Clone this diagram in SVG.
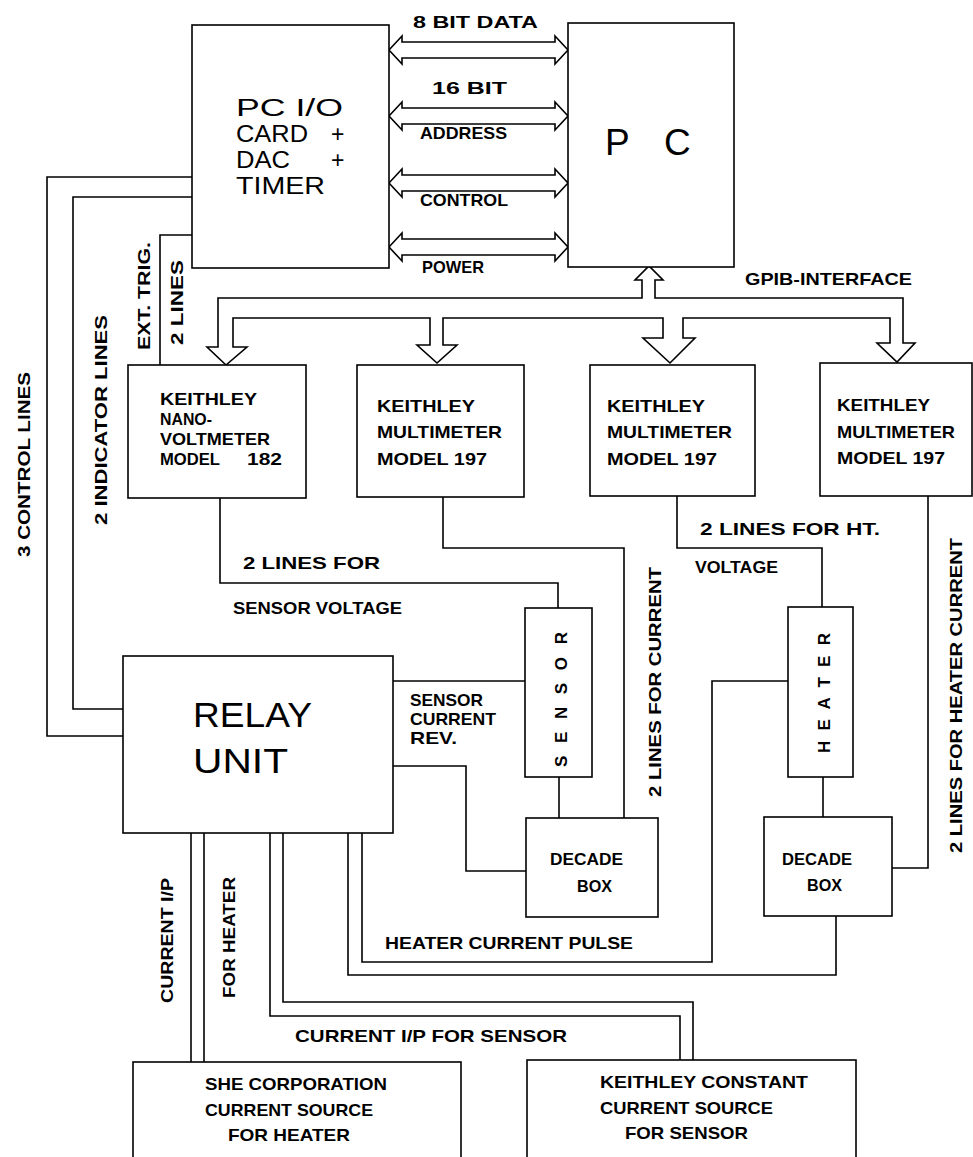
<svg xmlns="http://www.w3.org/2000/svg" width="973" height="1157" viewBox="0 0 973 1157">
<style>
.box{fill:#fff;stroke:#000;stroke-width:1.6}
.ln{fill:none;stroke:#000;stroke-width:1.6}
.bus{fill:#fff;stroke:#000;stroke-width:1.6;stroke-linejoin:miter}
.big{font-family:"Liberation Sans",Arial,sans-serif;font-weight:normal;fill:#000}
.sm{font-family:"Liberation Sans",Arial,sans-serif;font-weight:bold;font-size:17px;fill:#000}
</style>
<rect width="973" height="1157" fill="#fff"/>

<g id="connectors">
  <polyline class="ln" points="192,177 47,177 47,736 123,736"/>
  <polyline class="ln" points="192,197 73,197 73,709 123,709"/>
  <polyline class="ln" points="192,235 160,235 160,365"/>
  <polyline class="ln" points="220,498 220,583 558,583 558,608"/>
  <polyline class="ln" points="443,497 443,548 624,548 624,818"/>
  <polyline class="ln" points="677,496 677,548 822,548 822,607"/>
  <polyline class="ln" points="928,496 928,868 892,868"/>
  <polyline class="ln" points="393,681 525,681"/>
  <polyline class="ln" points="393,766 466,766 466,871 526,871"/>
  <polyline class="ln" points="559,777 559,818"/>
  <polyline class="ln" points="823,777 823,817"/>
  <polyline class="ln" points="191,833 191,1062"/>
  <polyline class="ln" points="204,833 204,1062"/>
  <polyline class="ln" points="270,833 270,1016 680,1016 680,1060"/>
  <polyline class="ln" points="283,833 283,1002 693,1002 693,1060"/>
  <polyline class="ln" points="348,833 348,975 836,975 836,916"/>
  <polyline class="ln" points="362,833 362,962 712,962 712,681 788,681"/>
  <path class="bus" d="M389,50 L402,36 L402,42 L555,42 L555,36 L568,50 L555,64 L555,58 L402,58 L402,64 Z"/>
  <path class="bus" d="M389,116 L402,102 L402,108 L555,108 L555,102 L568,116 L555,130 L555,124 L402,124 L402,130 Z"/>
  <path class="bus" d="M389,183 L402,169 L402,175 L555,175 L555,169 L568,183 L555,197 L555,191 L402,191 L402,197 Z"/>
  <path class="bus" d="M389,247 L402,233 L402,239 L555,239 L555,233 L568,247 L555,261 L555,255 L402,255 L402,261 Z"/>
  <path class="bus" d="M642,280 L635,280 L649,266 L663,280 L655,280 L655,298 L903,298 L903,343 L915,343 L897,362 L877,343 L890,343 L890,318 L683,318 L683,338 L695,338 L670,363 L643,338 L663,338 L663,318 L443,318 L443,345 L457,345 L437,363 L417,345 L430,345 L430,318 L233,318 L233,347 L247,347 L226,365 L207,347 L218,347 L218,298 L642,298 Z"/>
  <text class="sm" x="413" y="28" textLength="125" lengthAdjust="spacingAndGlyphs">8 BIT DATA</text>
  <text class="sm" x="432" y="94" textLength="75" lengthAdjust="spacingAndGlyphs">16 BIT</text>
  <text class="sm" x="420" y="139" textLength="87" lengthAdjust="spacingAndGlyphs">ADDRESS</text>
  <text class="sm" x="420" y="206" textLength="88" lengthAdjust="spacingAndGlyphs">CONTROL</text>
  <text class="sm" x="422" y="273" textLength="62" lengthAdjust="spacingAndGlyphs">POWER</text>
  <text class="sm" x="745" y="285" textLength="167" lengthAdjust="spacingAndGlyphs">GPIB-INTERFACE</text>
  <text class="sm" x="243" y="569" textLength="137" lengthAdjust="spacingAndGlyphs">2 LINES FOR</text>
  <text class="sm" x="233" y="614" textLength="169" lengthAdjust="spacingAndGlyphs">SENSOR VOLTAGE</text>
  <text class="sm" x="700" y="535" textLength="180" lengthAdjust="spacingAndGlyphs">2 LINES FOR HT.</text>
  <text class="sm" x="695" y="573" textLength="83" lengthAdjust="spacingAndGlyphs">VOLTAGE</text>
  <text class="sm" x="410" y="706" textLength="73" lengthAdjust="spacingAndGlyphs">SENSOR</text>
  <text class="sm" x="410" y="725" textLength="86" lengthAdjust="spacingAndGlyphs">CURRENT</text>
  <text class="sm" x="410" y="744" textLength="47" lengthAdjust="spacingAndGlyphs">REV.</text>
  <text class="sm" x="385" y="949" textLength="248" lengthAdjust="spacingAndGlyphs">HEATER CURRENT PULSE</text>
  <text class="sm" x="295" y="1042" textLength="272" lengthAdjust="spacingAndGlyphs">CURRENT I/P FOR SENSOR</text>
  <text class="sm" transform="translate(30,557) rotate(-90)" textLength="185" lengthAdjust="spacingAndGlyphs">3 CONTROL LINES</text>
  <text class="sm" transform="translate(107,525) rotate(-90)" textLength="210" lengthAdjust="spacingAndGlyphs">2 INDICATOR LINES</text>
  <text class="sm" transform="translate(150,350) rotate(-90)" textLength="108" lengthAdjust="spacingAndGlyphs">EXT. TRIG.</text>
  <text class="sm" transform="translate(183,345) rotate(-90)" textLength="85" lengthAdjust="spacingAndGlyphs">2 LINES</text>
  <text class="sm" transform="translate(661,797) rotate(-90)" textLength="230" lengthAdjust="spacingAndGlyphs">2 LINES FOR CURRENT</text>
  <text class="sm" transform="translate(962,853) rotate(-90)" textLength="315" lengthAdjust="spacingAndGlyphs">2 LINES FOR HEATER CURRENT</text>
  <text class="sm" transform="translate(173,1003) rotate(-90)" textLength="125" lengthAdjust="spacingAndGlyphs">CURRENT I/P</text>
  <text class="sm" transform="translate(235,998) rotate(-90)" textLength="121" lengthAdjust="spacingAndGlyphs">FOR HEATER</text>
</g>

<g id="pcio">
  <rect class="box" x="192" y="25" width="197" height="243"/>
  <text class="big" font-size="23" x="236" y="116" textLength="107" lengthAdjust="spacingAndGlyphs">PC I/O</text>
  <text class="big" font-size="23" x="236" y="142" textLength="72" lengthAdjust="spacingAndGlyphs">CARD</text>
  <text class="big" font-size="23" x="331" y="142">+</text>
  <text class="big" font-size="23" x="236" y="168" textLength="54" lengthAdjust="spacingAndGlyphs">DAC</text>
  <text class="big" font-size="23" x="331" y="168">+</text>
  <text class="big" font-size="23" x="236" y="194" textLength="89" lengthAdjust="spacingAndGlyphs">TIMER</text>
</g>

<g id="pc">
  <rect class="box" x="568" y="23" width="166" height="244"/>
  <text class="big" font-size="37" x="605" y="155">P</text>
  <text class="big" font-size="37" x="664" y="155">C</text>
</g>

<g id="nanovoltmeter">
  <rect class="box" x="128" y="365" width="178" height="133"/>
  <text class="sm" x="160" y="405" textLength="97" lengthAdjust="spacingAndGlyphs">KEITHLEY</text>
  <text class="sm" x="160" y="425" textLength="52" lengthAdjust="spacingAndGlyphs">NANO-</text>
  <text class="sm" x="160" y="445" textLength="110" lengthAdjust="spacingAndGlyphs">VOLTMETER</text>
  <text class="sm" x="160" y="465" textLength="60" lengthAdjust="spacingAndGlyphs">MODEL</text>
  <text class="sm" x="247" y="465" textLength="35" lengthAdjust="spacingAndGlyphs">182</text>
</g>

<g id="multimeter1">
  <rect class="box" x="357" y="365" width="167" height="132"/>
  <text class="sm" x="377" y="412" textLength="98" lengthAdjust="spacingAndGlyphs">KEITHLEY</text>
  <text class="sm" x="377" y="438" textLength="125" lengthAdjust="spacingAndGlyphs">MULTIMETER</text>
  <text class="sm" x="377" y="465" textLength="110" lengthAdjust="spacingAndGlyphs">MODEL 197</text>
</g>

<g id="multimeter2">
  <rect class="box" x="590" y="365" width="165" height="131"/>
  <text class="sm" x="607" y="412" textLength="98" lengthAdjust="spacingAndGlyphs">KEITHLEY</text>
  <text class="sm" x="607" y="438" textLength="125" lengthAdjust="spacingAndGlyphs">MULTIMETER</text>
  <text class="sm" x="607" y="465" textLength="110" lengthAdjust="spacingAndGlyphs">MODEL 197</text>
</g>

<g id="multimeter3">
  <rect class="box" x="820" y="363" width="152" height="133"/>
  <text class="sm" x="837" y="411" textLength="93" lengthAdjust="spacingAndGlyphs">KEITHLEY</text>
  <text class="sm" x="837" y="438" textLength="118" lengthAdjust="spacingAndGlyphs">MULTIMETER</text>
  <text class="sm" x="837" y="464" textLength="108" lengthAdjust="spacingAndGlyphs">MODEL 197</text>
</g>

<g id="relay">
  <rect class="box" x="123" y="656" width="270" height="177"/>
  <text class="big" font-size="35" x="193" y="727" textLength="119" lengthAdjust="spacingAndGlyphs">RELAY</text>
  <text class="big" font-size="35" x="193" y="773" textLength="95" lengthAdjust="spacingAndGlyphs">UNIT</text>
</g>

<g id="sensor">
  <rect class="box" x="525" y="608" width="67" height="169"/>
  <text class="sm" transform="translate(567,767) rotate(-90)" textLength="135" lengthAdjust="spacing">S E N S O R</text>
</g>

<g id="heater">
  <rect class="box" x="788" y="607" width="65" height="170"/>
  <text class="sm" transform="translate(830,753) rotate(-90)" textLength="120" lengthAdjust="spacing">H E A T E R</text>
</g>

<g id="decade1">
  <rect class="box" x="526" y="818" width="132" height="99"/>
  <text class="sm" x="550" y="865" textLength="73" lengthAdjust="spacingAndGlyphs">DECADE</text>
  <text class="sm" x="577" y="892" textLength="35" lengthAdjust="spacingAndGlyphs">BOX</text>
</g>

<g id="decade2">
  <rect class="box" x="764" y="817" width="128" height="99"/>
  <text class="sm" x="782" y="865" textLength="70" lengthAdjust="spacingAndGlyphs">DECADE</text>
  <text class="sm" x="807" y="891" textLength="35" lengthAdjust="spacingAndGlyphs">BOX</text>
</g>

<g id="she-source">
  <rect class="box" x="133" y="1062" width="328" height="110"/>
  <text class="sm" x="205" y="1090" textLength="182" lengthAdjust="spacingAndGlyphs">SHE CORPORATION</text>
  <text class="sm" x="205" y="1116" textLength="168" lengthAdjust="spacingAndGlyphs">CURRENT SOURCE</text>
  <text class="sm" x="228" y="1141" textLength="122" lengthAdjust="spacingAndGlyphs">FOR HEATER</text>
</g>

<g id="keithley-source">
  <rect class="box" x="527" y="1060" width="329" height="112"/>
  <text class="sm" x="600" y="1088" textLength="208" lengthAdjust="spacingAndGlyphs">KEITHLEY CONSTANT</text>
  <text class="sm" x="600" y="1114" textLength="173" lengthAdjust="spacingAndGlyphs">CURRENT SOURCE</text>
  <text class="sm" x="625" y="1139" textLength="123" lengthAdjust="spacingAndGlyphs">FOR SENSOR</text>
</g>
</svg>
